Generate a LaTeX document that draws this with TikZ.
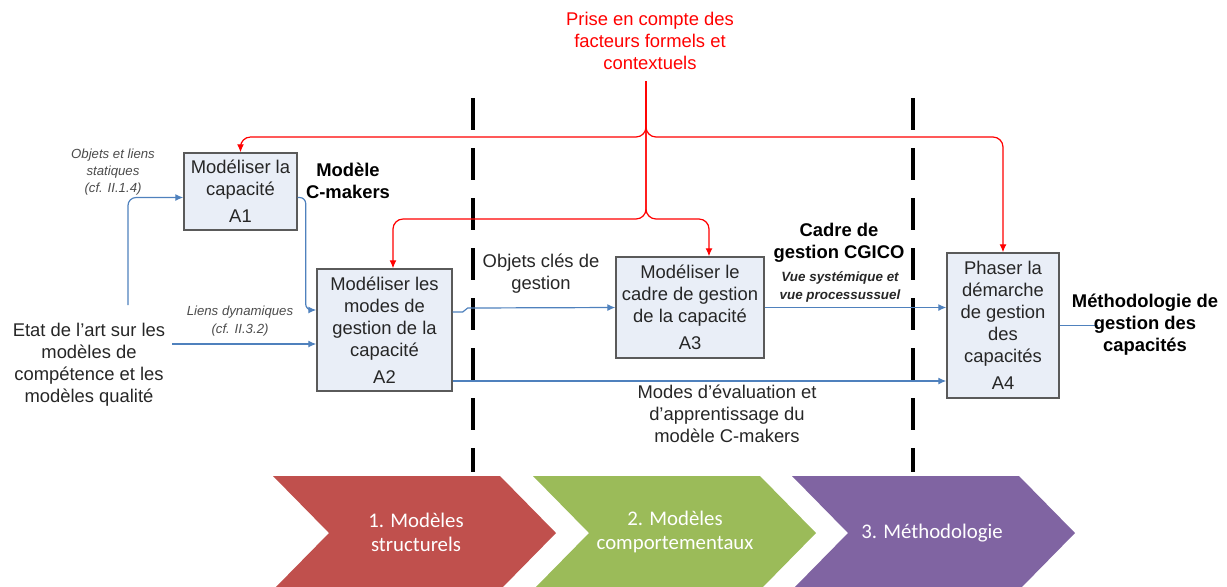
\documentclass[tikz,border=0pt]{standalone}
\usepackage{fontspec}
\setmainfont{Liberation Sans}
\newfontfamily\chevfont{Carlito}
\usetikzlibrary{arrows.meta,calc}
\definecolor{boxfill}{HTML}{E9EEF7}
\definecolor{boxline}{HTML}{5A5A5A}
\definecolor{flowblue}{HTML}{4F81BD}
\definecolor{chevred}{HTML}{C0504D}
\definecolor{chevgreen}{HTML}{9BBB59}
\definecolor{chevpurple}{HTML}{8064A2}
\begin{document}
\begin{tikzpicture}[x=0.5pt,y=-0.5pt,
  box/.style={draw=boxline,fill=boxfill,line width=0.7pt,align=center,inner sep=0pt,text=black!85,font=\fontsize{9.2}{11}\selectfont},
  flow/.style={draw=flowblue,line width=0.6pt,-{Latex[length=4pt,width=3.5pt]}},
  redflow/.style={draw=red,line width=0.6pt,rounded corners=5pt,-{Latex[length=4pt,width=3.5pt]}},
  divider/.style={line width=2pt,dash pattern=on 16pt off 9pt},
  lbl/.style={align=center,inner sep=0pt,text=black!85,font=\fontsize{9.2}{11}\selectfont},
  lblbold/.style={lbl,text=black,font=\fontsize{9.2}{11}\selectfont\bfseries},
  note/.style={align=center,inner sep=0pt,text=black!70,font=\fontsize{6.6}{8.6}\selectfont\itshape},
  chevtext/.style={align=center,text=white,font=\chevfont\fontsize{10.4}{12}\selectfont}]
\useasboundingbox (0,0) rectangle (1227,586);

% phases
\begin{scope}
\clip (0,0) rectangle (1227,586);
\foreach \x/\c in {273/chevred,533/chevgreen,792/chevpurple}
  \fill[\c] (\x,476) -- ++(227,0) -- ++(56,57) -- ++(-56,57) -- ++(-227,0) -- ++(56,-57) -- cycle;
\end{scope}
\node[chevtext] (ph1) at (416,532) {1. Modèles\\structurels};
\node[chevtext] (ph2) at (675,532) {2. Modèles\\comportementaux};
\node[chevtext] (ph3) at (932,533) {3. Méthodologie};

% separations
\draw[divider] (473,98) -- (473,472);
\draw[divider] (913,98) -- (913,472);

% activities
\node[box,minimum width=56.5pt,minimum height=38.5pt] (A1) at (240.5,191.5) {Modéliser la\\capacité\\[2.5pt]A1};
\node[box,minimum width=67.5pt,minimum height=61pt] (A2) at (384.5,330) {Modéliser les\\modes de\\gestion de la\\capacité\\[2.5pt]A2};
\node[box,minimum width=74pt,minimum height=50.5pt] (A3) at (690,307.5) {Modéliser le\\cadre de gestion\\de la capacité\\[2.5pt]A3};
\node[box,minimum width=56pt,minimum height=72.5pt] (A4) at (1003,325.5) {Phaser la\\démarche\\de gestion\\des\\capacités\\[2.5pt]A4};

% controls
\node[lbl,text=red] (src) at (650,41) {Prise en compte des\\facteurs formels et\\contextuels};
\coordinate (srcfoot) at (646,81);
\coordinate (jtop) at (646,137);
\coordinate (jlow) at (646,219);
\draw[redflow] (srcfoot) -- (jtop) -- (jtop -| A1.north) -- (A1.north);
\draw[redflow] (srcfoot) -- (jtop) -- (jtop -| A4.north) -- (A4.north);
\draw[redflow] (srcfoot) -- (jlow) -- (jlow -| {$(A2.north)+(8.5,0)$}) -- ($(A2.north)+(8.5,0)$);
\draw[redflow] (srcfoot) -- (jlow) -- (jlow -| {$(A3.north)+(19,0)$}) -- ($(A3.north)+(19,0)$);

% inputs and outputs
\node[lbl] (etat) at (89,365) {Etat de l’art sur les\\modèles de\\compétence et les\\modèles qualité};
\coordinate (e1) at (128,305);
\coordinate (e2) at (172,344);
\draw[flow,rounded corners=4pt] (e1) |- ([yshift=-3pt]A1.west);
\draw[flow] (e2) -- (e2 -| A2.west);
\draw[flow,rounded corners=3pt] ([yshift=-3pt]A1.east) -- ++(8,0) |- ([yshift=10pt]A2.west);
\draw[flow] ([yshift=9pt]A2.east) -- ++(10,0) -- ++(5,-4) -- (A3.west);
\draw[flow] (A3.east) -- (A3.east -| A4.west);
\draw[flow] ([yshift=-25.5pt]A2.east) -- ([yshift=-25.5pt]A2.east -| A4.west);
\draw[draw=flowblue,line width=0.6pt] (A4.east) -- ++(38,0);

% labels
\node[note] (statlbl) at (113,172) {Objets et liens\\statiques\\(cf. II.1.4)};
\node[note] (dynlbl) at (240,321) {Liens dynamiques\\(cf. II.3.2)};
\node[lblbold] (cmk) at (348,181) {Modèle\\C-makers};
\node[lbl] (keylbl) at (541,274) {Objets clés de\\gestion};
\node[lblbold] (cgico) at (839,243) {Cadre de\\gestion CGICO};
\node[note,text=black!85,font=\fontsize{6.7}{9}\selectfont\bfseries\itshape] (vue) at (840,287) {Vue systémique et\\vue processussuel};
\node[lbl] (modes) at (727,414) {Modes d’évaluation et\\d’apprentissage du\\modèle C-makers};
\node[lblbold] (meth) at (1145,325) {Méthodologie de\\gestion des\\capacités};
\end{tikzpicture}
\end{document}
